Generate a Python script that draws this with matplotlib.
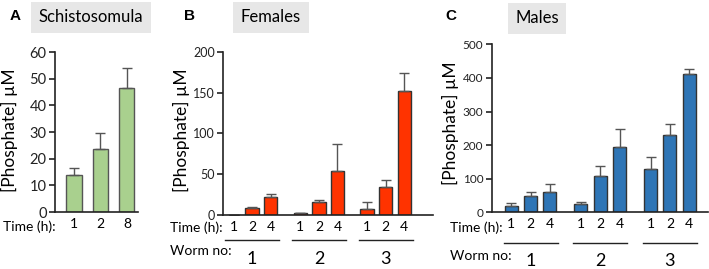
import numpy as np
import matplotlib
matplotlib.use("Agg")
import matplotlib.pyplot as plt
import matplotlib.transforms as mtransforms

plt.rcParams['font.family'] = ['Lato', 'DejaVu Sans']

# Datos
schisto_time = ['1', '2', '8']
schisto_mean = [14.0, 23.6, 46.6]
schisto_err = [2.6, 5.9, 7.3]

worm_time = ['1', '2', '4']
worm_no = ['1', '2', '3']

female_mean = [[0.0, 8.6, 21.6], [2.5, 16.3, 54.3], [7.8, 34.7, 152.0]]
female_err = [[0.0, 0.8, 3.7], [0.5, 1.6, 32.7], [7.7, 8.2, 22.0]]

male_mean = [[19.8, 47.3, 61.3], [23.8, 108.0, 195.0], [130.0, 229.0, 410.7]]
male_err = [[8.0, 12.2, 21.7], [6.9, 28.6, 52.0], [33.7, 33.8, 15.0]]

W, H = 709, 269
fig = plt.figure(figsize=(W / 100, H / 100), dpi=100)


def ejes_px(l, t, r, b):
    return fig.add_axes([l / W, 1 - b / H, (r - l) / W, (b - t) / H])


def estilo(ax, ylim, yticks, fs):
    ax.set_ylim(*ylim)
    ax.set_yticks(yticks)
    for s in ['top', 'right']:
        ax.spines[s].set_visible(False)
    for s in ['left', 'bottom']:
        ax.spines[s].set_linewidth(1.2)
        ax.spines[s].set_color('#222222')
    ax.tick_params(axis='y', labelsize=fs, length=4, width=1.2, pad=2,
                   colors='#222222')
    ax.tick_params(axis='x', length=0, labelsize=10, pad=4)


def texto_px(x, y, s, **kw):
    kw.setdefault('va', 'center')
    kw.setdefault('fontsize', 10)
    fig.text(x / W, 1 - y / H, s, **kw)


def panel_grupos(ax, medias, errores, color, ancho, periodo=3.6):
    pos = []
    for g in range(3):
        pos.append([g * periodo + i for i in range(3)])
    x = np.array(pos).ravel()
    y = np.array(medias).ravel()
    e = np.array(errores).ravel()
    ax.bar(x, y, width=ancho, color=color, edgecolor='#333333', linewidth=1)
    ax.errorbar(x, y, yerr=[np.zeros_like(e), e], fmt='none', ecolor='#555555',
                elinewidth=1, capsize=3.5, capthick=1)
    ax.set_xticks(x, worm_time * 3)
    tr = mtransforms.blended_transform_factory(ax.transData, ax.transAxes)
    return pos, tr


# Panel A
axA = ejes_px(55, 52, 138, 212)
xa = np.arange(len(schisto_mean))
axA.bar(xa, schisto_mean, width=0.57, color='#a9d08e', edgecolor='#555555',
        linewidth=1)
axA.errorbar(xa, schisto_mean, yerr=[np.zeros(3), schisto_err], fmt='none',
             ecolor='#555555', elinewidth=1, capsize=3.5, capthick=1)
axA.set_xlim(-0.72, 2.42)
estilo(axA, (0, 60), range(0, 61, 10), 10.5)
axA.set_xticks(xa, schisto_time)
texto_px(9, 130, '[Phosphate] µM', rotation=90, ha='center', fontsize=12.5)
texto_px(3, 227, 'Time (h):')

# Panel B
axB = ejes_px(223, 51.7, 433, 215)
posB, trB = panel_grupos(axB, female_mean, female_err, '#ff3300', 0.72)
axB.set_xlim(-0.57, 10.75)
estilo(axB, (0, 200), range(0, 201, 50), 9)
texto_px(181, 130, '[Phosphate] µM', rotation=90, ha='center', fontsize=12.5)
texto_px(170, 228, 'Time (h):')
texto_px(170, 251, 'Worm no:')
for g, p in enumerate(posB):
    c = np.mean(p)
    axB.plot([c - 1.45, c + 1.45], [-0.155, -0.155], transform=trB,
             color='#222222', lw=1, clip_on=False)
    axB.text(c, -0.22, worm_no[g], transform=trB, ha='center', va='top',
             fontsize=13)

# Panel C
axC = ejes_px(491.7, 44.3, 708, 212.3)
posC, trC = panel_grupos(axC, male_mean, male_err, '#2e75b6', 0.67)
axC.set_xlim(-1.01, 10.17)
estilo(axC, (0, 500), range(0, 501, 100), 8.5)
texto_px(450, 123, '[Phosphate] µM', rotation=90, ha='center', fontsize=12.5)
texto_px(450, 228, 'Time (h):')
texto_px(450, 256, 'Worm no:')
for g, p in enumerate(posC):
    c = np.mean(p)
    axC.plot([c - 1.4, c + 1.4], [-0.185, -0.185], transform=trC,
             color='#222222', lw=1, clip_on=False)
    axC.text(c, -0.245, worm_no[g], transform=trC, ha='center', va='top',
             fontsize=13)

# Titulos y letras
for letra, lx, ly in [('A', 10, 16), ('B', 184, 16), ('C', 445, 16)]:
    texto_px(lx, ly, letra, fontsize=11, fontweight='bold',
             family=['Liberation Sans', 'DejaVu Sans'])
for titulo, cx, cy in [('Schistosomula', 91, 17), ('Females', 271, 17),
                       ('Males', 537, 18)]:
    texto_px(cx, cy, titulo, ha='center', fontsize=12,
             bbox=dict(boxstyle='square,pad=0.45', fc='#e7e7e7', ec='none'))

fig.savefig('out.png', dpi=100)
